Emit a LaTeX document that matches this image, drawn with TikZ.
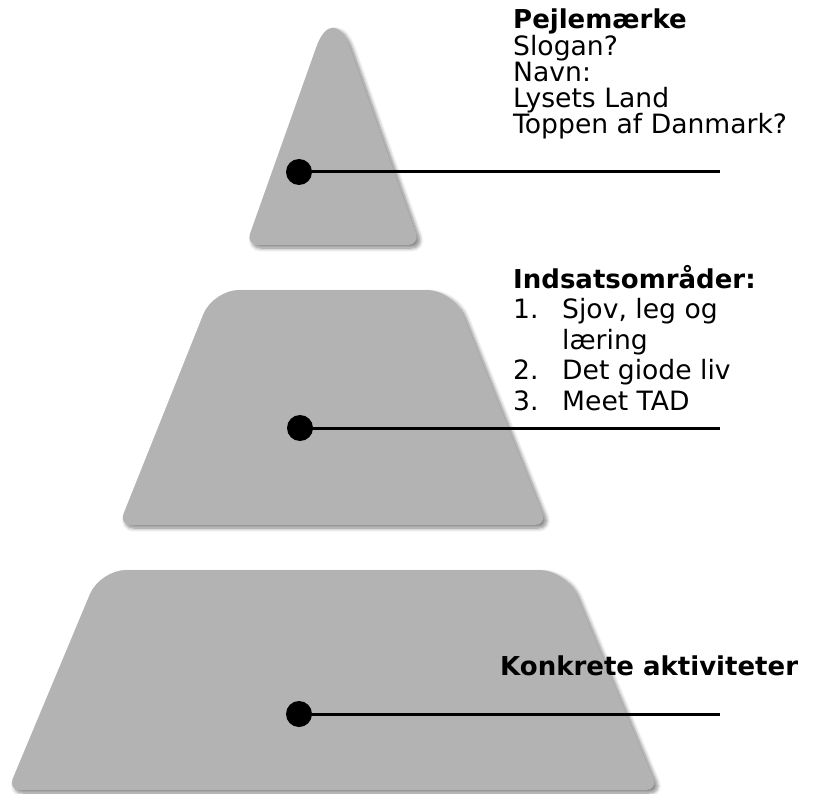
\documentclass[tikz,border=0pt]{standalone}
\usepackage{fontspec}
\setmainfont{DejaVu Sans}
\usetikzlibrary{shadows.blur,calc}
\definecolor{pyr}{RGB}{179,179,179}
\tikzset{
  level/.style={fill=pyr, blur shadow={shadow xshift=3pt, shadow yshift=-3pt, shadow blur steps=8, shadow blur radius=4pt, shadow opacity=50}},
  dotmark/.style={circle, fill=black, inner sep=0pt, minimum size=26pt},
  leader/.style={line width=3pt},
  txt/.style={anchor=base west, inner sep=0pt, font=\fontsize{26.6}{26}\selectfont},
  btxt/.style={anchor=base west, inner sep=0pt, font=\fontsize{26}{26}\selectfont\bfseries}
}
% corner helper: name, previous point, corner point, next point, cut length
\newcommand\mkcorner[5]{%
  \coordinate (#1a) at ($(#3)!#5!(#2)$);
  \coordinate (#1b) at ($(#3)!#5!(#4)$);
  \coordinate (#1c) at ($(#1a)!0.55!(#3)$);
  \coordinate (#1d) at ($(#1b)!0.55!(#3)$);}
\begin{document}
\begin{tikzpicture}[x=1pt,y=-1pt]
\useasboundingbox (0,0) rectangle (816,794);
% top triangle
\coordinate (T1) at (246,245);
\coordinate (T2) at (333,0);
\coordinate (T3) at (420,245);
\mkcorner{ta}{T3}{T1}{T2}{12pt}
\mkcorner{tb}{T1}{T2}{T3}{50pt}
\mkcorner{tc}{T2}{T3}{T1}{12pt}
\path[level] (taa) .. controls (tac) and (tad) .. (tab)
  -- (tba) .. controls (tbc) and (tbd) .. (tbb)
  -- (tca) .. controls (tcc) and (tcd) .. (tcb) -- cycle;
% middle trapezoid
\coordinate (M1) at (119,525);
\coordinate (M2) at (213,290);
\coordinate (M3) at (453,290);
\coordinate (M4) at (547,525);
\mkcorner{ma}{M4}{M1}{M2}{12pt}
\mkcorner{mb}{M1}{M2}{M3}{26pt}
\mkcorner{mc}{M2}{M3}{M4}{26pt}
\mkcorner{md}{M3}{M4}{M1}{12pt}
\path[level] (maa) .. controls (mac) and (mad) .. (mab)
  -- (mba) .. controls (mbc) and (mbd) .. (mbb)
  -- (mca) .. controls (mcc) and (mcd) .. (mcb)
  -- (mda) .. controls (mdc) and (mdd) .. (mdb) -- cycle;
% bottom trapezoid
\coordinate (B1) at (8,790);
\coordinate (B2) at (100,570);
\coordinate (B3) at (566,570);
\coordinate (B4) at (658,790);
\mkcorner{ba}{B4}{B1}{B2}{12pt}
\mkcorner{bb}{B1}{B2}{B3}{26pt}
\mkcorner{bc}{B2}{B3}{B4}{26pt}
\mkcorner{bd}{B3}{B4}{B1}{12pt}
\path[level] (baa) .. controls (bac) and (bad) .. (bab)
  -- (bba) .. controls (bbc) and (bbd) .. (bbb)
  -- (bca) .. controls (bcc) and (bcd) .. (bcb)
  -- (bda) .. controls (bdc) and (bdd) .. (bdb) -- cycle;

% dots and leaders
\node[dotmark] (d1) at (299,172) {};
\coordinate (e1) at (720,172);
\draw[leader] (d1.center) -- (e1);
\node[dotmark] (d2) at (300,428) {};
\coordinate (e2) at (720,428);
\draw[leader] (d2.center) -- (e2);
\node[dotmark] (d3) at (299,714) {};
\coordinate (e3) at (720,714);
\draw[leader] (d3.center) -- (e3);

% top text
\node[btxt] (t1) at (513,29) {Pejlemærke};
\node[txt] (t2) at (513,55.25) {Slogan?};
\node[txt] (t3) at (513,81.5) {Navn:};
\node[txt] (t4) at (513,107.75) {Lysets Land};
\node[txt] (t5) at (513,134) {Toppen af Danmark?};

% middle text
\node[btxt] (m0) at (513,288) {Indsatsområder:};
\node[txt] (m1n) at (513,318.5) {1.};
\node[txt] (m1) at (562,318.5) {Sjov, leg og};
\node[txt] (m1b) at (562,349) {læring};
\node[txt] (m2n) at (513,379.5) {2.};
\node[txt] (m2) at (562,379.5) {Det giode liv};
\node[txt] (m3n) at (513,410) {3.};
\node[txt] (m3) at (562,410) {Meet TAD};

% bottom text
\node[btxt] (b1) at (500,675) {Konkrete aktiviteter};
\end{tikzpicture}
\end{document}
